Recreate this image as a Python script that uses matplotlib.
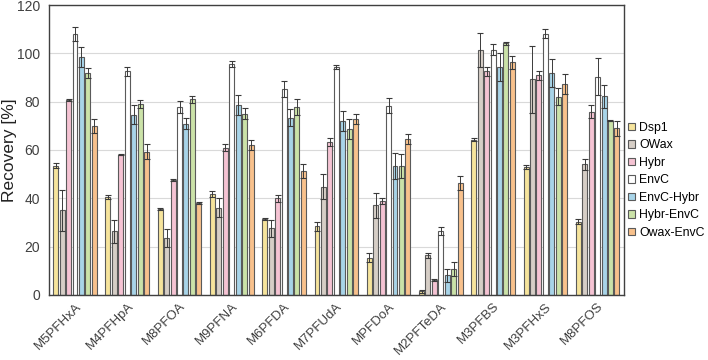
import numpy as np
import matplotlib
matplotlib.use("Agg")
import matplotlib.pyplot as plt

plt.rcParams["font.family"] = ["Liberation Sans", "DejaVu Sans"]

# compounds on the x axis
compounds = ["M5PFHxA", "M4PFHpA", "M8PFOA", "M9PFNA", "M6PFDA", "M7PFUdA",
             "MPFDoA", "M2PFTeDA", "M3PFBS", "M3PFHxS", "M8PFOS"]
methods = ["Dsp1", "OWax", "Hybr", "EnvC", "EnvC-Hybr", "Hybr-EnvC", "Owax-EnvC"]

# mean recovery [%] per method, one value per compound
dsp1 = [53.5, 40.5, 35.5, 41.8, 31.5, 28.4, 15.4, 1.4, 64.3, 52.9, 30.3]
owax = [35.0, 26.3, 23.4, 36.1, 27.5, 44.8, 37.1, 16.3, 101.5, 89.2, 54.0]
hybr = [80.7, 58.0, 47.6, 61.0, 40.0, 63.3, 39.0, 6.1, 92.5, 90.9, 75.9]
envc = [108.0, 92.5, 77.8, 95.6, 85.1, 94.2, 78.3, 26.4, 101.5, 108.2, 90.3]
envc_hybr = [98.5, 74.6, 70.8, 78.6, 73.4, 72.1, 53.4, 8.1, 94.4, 91.8, 82.2]
hybr_envc = [91.7, 79.0, 81.0, 75.0, 77.7, 68.7, 53.3, 10.8, 104.2, 82.0, 72.0]
owax_envc = [70.0, 59.2, 38.0, 62.0, 51.3, 72.8, 64.5, 46.4, 96.3, 87.3, 68.9]

# error (+/-)
dsp1_err = [1.0, 0.8, 0.3, 1.1, 0.5, 1.9, 1.9, 0.7, 0.5, 0.9, 1.0]
owax_err = [8.5, 4.7, 3.7, 4.0, 3.6, 5.2, 5.2, 0.9, 7.0, 14.0, 2.1]
hybr_err = [0.5, 0.2, 0.4, 1.3, 1.5, 1.5, 1.3, 0.4, 2.0, 1.9, 2.8]
envc_err = [2.7, 2.0, 2.4, 1.2, 3.3, 0.8, 3.1, 1.6, 2.2, 1.8, 7.6]
envc_hybr_err = [4.3, 3.9, 2.3, 4.1, 3.5, 4.1, 5.5, 2.6, 5.9, 5.7, 4.7]
hybr_envc_err = [2.1, 1.7, 1.4, 2.2, 3.2, 4.3, 5.0, 3.0, 0.6, 3.5, 0.2]
owax_envc_err = [2.8, 3.1, 0.3, 2.0, 2.8, 2.0, 2.1, 3.0, 2.6, 4.0, 3.1]

series = [dsp1, owax, hybr, envc, envc_hybr, hybr_envc, owax_envc]
errors = [dsp1_err, owax_err, hybr_err, envc_err, envc_hybr_err, hybr_envc_err, owax_envc_err]
colors = ["#F6E49C", "#D6CEC6", "#F5C3D3", "#FFFFFF", "#A8D4E8", "#CBE2A8", "#F8C18C"]

fig = plt.figure(figsize=(7.08, 3.6), dpi=100)
ax = fig.add_axes([0.069, 0.181, 0.812, 0.805])

x = np.arange(len(compounds))
slot = 0.123
width = 0.095
for i, (vals, err, col, name) in enumerate(zip(series, errors, colors, methods)):
    pos = x + (i - 3) * slot
    ax.bar(pos, vals, width, color=col, edgecolor="#5a5a5a", linewidth=0.8,
           label=name, zorder=2)
    ax.errorbar(pos, vals, yerr=err, fmt="none", ecolor="#3a3a3a",
                elinewidth=0.7, capsize=2.3, capthick=0.8, zorder=3)

ax.set_xlim(-0.5, 10.5)
ax.set_ylim(0, 120)
ax.set_yticks(range(0, 121, 20))
ax.yaxis.grid(True, color="#d9d9d9", linewidth=0.8, zorder=0)
ax.set_axisbelow(True)
ax.tick_params(axis="y", length=0, labelsize=10, colors="#404040", pad=6.5)
ax.tick_params(axis="x", length=0, labelsize=9.5, colors="#404040", pad=4)
ax.set_xticks(x)
ax.set_xticklabels(compounds, rotation=45, ha="right", rotation_mode="anchor")
ax.set_ylabel("Recovery [%]", fontsize=12.5, color="#222222")
ax.yaxis.set_label_coords(-0.056, 0.5)
for s in ax.spines.values():
    s.set_color("#404040")
    s.set_linewidth(1.0)

ax.legend(loc="center left", bbox_to_anchor=(0.887, 0.499),
          bbox_transform=fig.transFigure, frameon=False, fontsize=8.8,
          handlelength=0.6, handleheight=0.6, handletextpad=0.3,
          labelspacing=0.45, borderaxespad=0, borderpad=0)

fig.savefig("out.png", dpi=100)
